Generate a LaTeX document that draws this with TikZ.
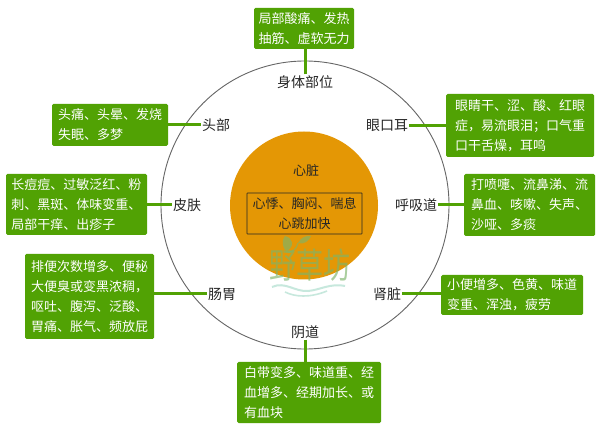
\documentclass[tikz,border=0pt]{standalone}
\usepackage{fontspec}
\setmainfont{Noto Sans CJK SC}
\definecolor{gbox}{HTML}{51A204}
\definecolor{heart}{HTML}{E49705}
\definecolor{ringc}{HTML}{666666}
\definecolor{wmgreen}{HTML}{7DB56A}
\definecolor{wmwave}{HTML}{A9DCCB}
\tikzset{
  sym/.style={draw=none,fill=gbox,rounded corners=1.5pt,text=white,inner sep=0pt,align=left,
    font=\fontsize{13}{20}\selectfont},
  part/.style={inner sep=1pt,text=black!85,font=\fontsize{14}{16}\selectfont},
  link/.style={draw=gbox,line width=3pt},
  ring/.style={draw=ringc,line width=0.9pt},
}
\begin{document}
\begin{tikzpicture}[x=1pt,y=-1pt]
\useasboundingbox (0,0) rectangle (600,430);
\fill[white] (0,0) rectangle (600,430);
\draw[ring] (305,205) circle[radius=144];
\fill[heart] (304,205.5) circle[radius=74];
% labels
\node[part] (lshen) at (305,82) {身体部位};
\node[part] (ltou) at (216,125) {头部};
\node[part] (lpi) at (187,205) {皮肤};
\node[part] (lyan) at (387,125.5) {眼口耳};
\node[part] (lhu) at (416,205) {呼吸道};
\node[part] (lshe) at (387,294) {肾脏};
\node[part] (lchang) at (222,294) {肠胃};
\node[part] (lyin) at (305,332) {阴道};
% boxes
\node[sym,minimum width=100pt,minimum height=41pt] (bshen) at (304,28.5) {局部酸痛、发热\\抽筋、虚软无力};
\node[sym,minimum width=116pt,minimum height=42pt] (btou) at (110,125) {头痛、头晕、发烧\\失眠、多梦};
\node[sym,minimum width=141pt,minimum height=61pt] (bpi) at (76.5,204.5) {长痘痘、过敏泛红、粉\\刺、黑斑、体味变重、\\局部干痒、出疹子};
\node[sym,minimum width=148pt,minimum height=63pt] (byan) at (520,125.5) {眼睛干、涩、酸、红眼\\症，易流眼泪；口气重\\口干舌燥，耳鸣};
\node[sym,minimum width=131pt,minimum height=62pt] (bhu) at (529.5,205) {打喷嚏、流鼻涕、流\\鼻血、咳嗽、失声、\\沙哑、多痰};
\node[sym,minimum width=142pt,minimum height=40pt] (bshe) at (512,295) {小便增多、色黄、味道\\变重、浑浊，疲劳};
\node[sym,minimum width=129pt,minimum height=85pt] (bchang) at (89.5,296.5) {排便次数增多、便秘\\大便臭或变黑浓稠，\\呕吐、腹泻、泛酸、\\胃痛、胀气、频放屁};
\node[sym,minimum width=144pt,minimum height=61pt] (byin) at (309,392.5) {白带变多、味道重、经\\血增多、经期加长、或\\有血块};
% connectors
\draw[link] (lshen.north) -- (lshen.north |- bshen.south);
\draw[link] (btou.east) -- (ltou.west);
\draw[link] (bpi.east |- lpi.west) -- (lpi.west);
\draw[link] (lyan.east) -- (lyan.east -| byan.west);
\draw[link] (lhu.east) -- (lhu.east -| bhu.west);
\draw[link] (lshe.east) -- (lshe.east -| bshe.west);
\draw[link] (bchang.east |- lchang.west) -- (lchang.west);
\draw[link] (lyin.south) -- (lyin.south |- byin.north);
% heart text
\node[inner sep=0pt,text=black!85,font=\fontsize{13}{16}\selectfont] (lxin) at (306,171) {心脏};
\node[draw=black!85,line width=0.7pt,rounded corners=0.5pt,minimum width=115pt,minimum height=41pt,inner sep=0pt,
  align=center,text=black!85,font=\fontsize{13}{20}\selectfont] (bxin) at (304.5,213.5) {心悸、胸闷、喘息\\心跳加快};
% watermark
\begin{scope}[opacity=0.65]
\node[inner sep=0pt,text=wmgreen,yscale=1.3,transform shape,font=\fontsize{27}{30}\selectfont] (wm) at (310,265.5) {野草坊};
\fill[wmgreen] (285,250) .. controls (281,243) and (283,239) .. (285,236) .. controls (293,238) and (295,246) .. (287,251) -- cycle;
\fill[wmgreen] (298,243) .. controls (301,237) and (307,235) .. (311,236) .. controls (309,241) and (304,245) .. (298,243) -- cycle;
\draw[wmgreen,line width=1.2pt] (286,252) .. controls (291,254) and (297,249) .. (298,243);
\draw[wmwave,line width=2pt] (272,287) .. controls (285,281) and (295,292) .. (308,291) .. controls (320,290) and (330,283) .. (345,286);
\draw[wmwave,line width=1.6pt] (285,292) .. controls (295,297) and (310,298) .. (327,291);
\end{scope}
\end{tikzpicture}
\end{document}
